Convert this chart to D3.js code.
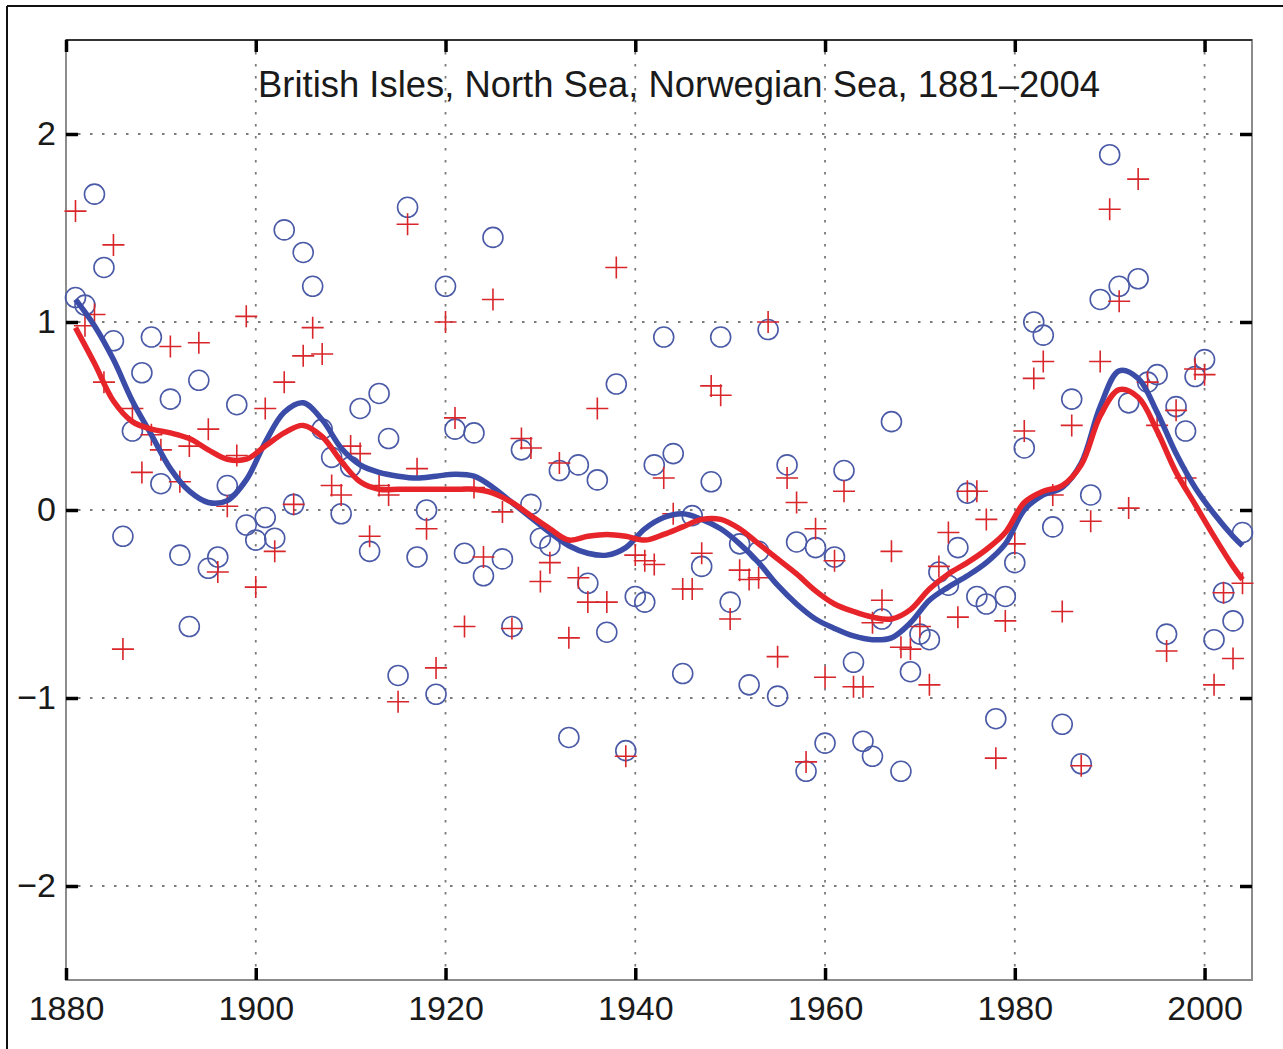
<!DOCTYPE html>
<html>
<head>
<meta charset="utf-8">
<script src="https://cdn.jsdelivr.net/npm/d3@7"></script>
<style>
  html, body { margin: 0; padding: 0; background: #fff; }
  svg { display: block; }
  text { font-family: "Liberation Sans", Arial, Helvetica, sans-serif; fill: #1a1a1a; }
</style>
</head>
<body>
<svg id="chart" width="1283" height="1049"></svg>
<script>
// Annual anomalies 1881–2004, two records (circles and crosses), with their smoothed curves.
const years = d3.range(1881, 2005);

const circleValues = [
  1.13, 1.09, 1.68, 1.29, 0.90, -0.14, 0.42, 0.73, 0.92, 0.14,      // 1881–1890
  0.59, -0.24, -0.62, 0.69, -0.31, -0.25, 0.13, 0.56, -0.08, -0.16, // 1891–1900
  -0.04, -0.15, 1.49, 0.03, 1.37, 1.19, 0.43, 0.28, -0.02, 0.23,    // 1901–1910
  0.54, -0.22, 0.62, 0.38, -0.88, 1.61, -0.25, 0.00, -0.98, 1.19,   // 1911–1920
  0.43, -0.23, 0.41, -0.35, 1.45, -0.26, -0.62, 0.32, 0.03, -0.15,  // 1921–1930
  -0.19, 0.21, -1.21, 0.24, -0.39, 0.16, -0.65, 0.67, -1.28, -0.46, // 1931–1940
  -0.49, 0.24, 0.92, 0.30, -0.87, -0.03, -0.30, 0.15, 0.92, -0.49,  // 1941–1950
  -0.18, -0.93, -0.22, 0.96, -0.99, 0.24, -0.17, -1.39, -0.20, -1.24, // 1951–1960
  -0.25, 0.21, -0.81, -1.23, -1.31, -0.58, 0.47, -1.39, -0.86, -0.66, // 1961–1970
  -0.69, -0.33, -0.40, -0.20, 0.09, -0.46, -0.50, -1.11, -0.46, -0.28, // 1971–1980
  0.33, 1.00, 0.93, -0.09, -1.14, 0.59, -1.35, 0.08, 1.12, 1.89,    // 1981–1990
  1.19, 0.57, 1.23, 0.68, 0.72, -0.66, 0.55, 0.42, 0.71, 0.80,      // 1991–2000
  -0.69, -0.44, -0.59, -0.12                                        // 2001–2004
];

const crossValues = [
  1.59, 0.98, 1.04, 0.68, 1.41, -0.74, 0.54, 0.20, 0.40, 0.32,      // 1881–1890
  0.87, 0.15, 0.34, 0.89, 0.43, -0.33, 0.02, 0.29, 1.03, -0.41,     // 1891–1900
  0.54, -0.22, 0.68, 0.03, 0.82, 0.97, 0.83, 0.13, 0.08, 0.34,      // 1901–1910
  0.30, -0.14, 0.13, 0.08, -1.02, 1.52, 0.22, -0.10, -0.84, 1.00,   // 1911–1920
  0.49, -0.62, 0.12, -0.25, 1.12, -0.01, -0.63, 0.38, 0.33, -0.38,  // 1921–1930
  -0.28, 0.25, -0.68, -0.36, -0.49, 0.54, -0.49, 1.29, -1.31, -0.24, // 1931–1940
  -0.27, -0.29, 0.17, -0.02, -0.42, -0.42, -0.23, 0.66, 0.61, -0.58, // 1941–1950
  -0.32, -0.37, -0.36, 1.00, -0.78, 0.17, 0.04, -1.34, -0.10, -0.89, // 1951–1960
  -0.27, 0.10, -0.94, -0.94, -0.60, -0.48, -0.22, -0.73, -0.74, -0.62, // 1961–1970
  -0.93, -0.30, -0.12, -0.57, 0.10, 0.10, -0.05, -1.32, -0.59, -0.18, // 1971–1980
  0.42, 0.70, 0.79, 0.08, -0.54, 0.45, -1.36, -0.06, 0.79, 1.60,    // 1981–1990
  1.11, 0.01, 1.76, 0.68, 0.45, -0.75, 0.53, 0.17, 0.75, 0.72,      // 1991–2000
  -0.93, -0.44, -0.79, -0.39                                        // 2001–2004
];

// Smoothed curves, sampled every second year
const smoothYears = [
  1881, 1883, 1885, 1887, 1889, 1891, 1893, 1895, 1897, 1899,
  1901, 1903, 1905, 1907, 1909, 1911, 1913, 1915, 1917, 1919,
  1921, 1923, 1925, 1927, 1929, 1931, 1933, 1935, 1937, 1939,
  1941, 1943, 1945, 1947, 1949, 1951, 1953, 1955, 1957, 1959,
  1961, 1963, 1965, 1967, 1969, 1971, 1973, 1975, 1977, 1979,
  1981, 1983, 1985, 1987, 1989, 1991, 1993, 1995, 1997, 1999,
  2001, 2003, 2004
];
const smoothCircles = [
  1.12, 0.98, 0.80, 0.58, 0.40, 0.22, 0.10, 0.04, 0.05, 0.16,
  0.36, 0.52, 0.57, 0.48, 0.33, 0.24, 0.20, 0.18, 0.17, 0.18,
  0.19, 0.18, 0.12, 0.04, -0.04, -0.12, -0.19, -0.23, -0.24, -0.20,
  -0.10, -0.04, -0.02, -0.05, -0.10, -0.18, -0.28, -0.40, -0.50, -0.58,
  -0.63, -0.67, -0.69, -0.68, -0.60, -0.48, -0.41, -0.35, -0.28, -0.18,
  0.00, 0.08, 0.12, 0.25, 0.55, 0.74, 0.70, 0.52, 0.30, 0.12,
  -0.02, -0.14, -0.19
];
const smoothCrosses = [
  0.97, 0.78, 0.58, 0.47, 0.43, 0.41, 0.38, 0.32, 0.27, 0.27,
  0.34, 0.41, 0.45, 0.39, 0.26, 0.15, 0.11, 0.11, 0.11, 0.11,
  0.11, 0.11, 0.09, 0.04, -0.03, -0.10, -0.16, -0.14, -0.13, -0.14,
  -0.16, -0.13, -0.09, -0.05, -0.05, -0.10, -0.18, -0.26, -0.34, -0.43,
  -0.50, -0.54, -0.57, -0.58, -0.53, -0.42, -0.34, -0.28, -0.21, -0.12,
  0.04, 0.10, 0.13, 0.24, 0.50, 0.64, 0.60, 0.42, 0.20, 0.03,
  -0.14, -0.30, -0.37
];

const xTicks = [1880, 1900, 1920, 1940, 1960, 1980, 2000];
const yTicks = [-2, -1, 0, 1, 2];
const titleText = "British Isles, North Sea, Norwegian Sea, 1881\u20132004";

const svg = d3.select("#chart");
const W = 1283, H = 1049;
const plot = { left: 66, right: 1252, top: 40, bottom: 980 };

const x = d3.scaleLinear().domain([1880, 2005]).range([plot.left, plot.right]);
const y = d3.scaleLinear().domain([-2.5, 2.5]).range([plot.bottom, plot.top]);

// Page frame (top and left edges)
svg.append("line").attr("x1", 7).attr("x2", W).attr("y1", 6).attr("y2", 6)
  .attr("stroke", "#111").attr("stroke-width", 2);
svg.append("line").attr("x1", 7).attr("x2", 7).attr("y1", 6).attr("y2", H)
  .attr("stroke", "#111").attr("stroke-width", 2);

// Dotted grid
const grid = svg.append("g").attr("class", "grid")
  .attr("stroke", "#7a7a7a").attr("stroke-width", 1.8).attr("stroke-dasharray", "2.5,9.5");
grid.selectAll("line.v").data(xTicks.filter(t => t > 1880)).join("line")
  .attr("class", "v")
  .attr("x1", d => x(d)).attr("x2", d => x(d))
  .attr("y1", plot.top).attr("y2", plot.bottom);
grid.selectAll("line.h").data(yTicks).join("line")
  .attr("class", "h")
  .attr("x1", plot.left).attr("x2", plot.right)
  .attr("y1", d => y(d)).attr("y2", d => y(d));

// Axes box
svg.append("rect")
  .attr("x", plot.left).attr("y", plot.top)
  .attr("width", plot.right - plot.left).attr("height", plot.bottom - plot.top)
  .attr("fill", "none").attr("stroke", "#8c8c8c").attr("stroke-width", 2);
svg.append("line").attr("x1", plot.left).attr("x2", plot.right)
  .attr("y1", plot.top).attr("y2", plot.top).attr("stroke", "#333").attr("stroke-width", 2);

// Axes with inward ticks on all four sides
function styleAxis(g) {
  g.select(".domain").remove();
  g.selectAll(".tick line").attr("stroke", "#000").attr("stroke-width", 3.5);
  g.selectAll(".tick text").attr("font-size", 34).attr("fill", "#1a1a1a")
    .style("font-family", '"Liberation Sans", Arial, Helvetica, sans-serif');
}
const yFmt = d => (d < 0 ? "\u2212" + Math.abs(d) : String(d));

svg.append("g").attr("transform", `translate(0,${plot.bottom})`)
  .call(d3.axisBottom(x).tickValues(xTicks).tickFormat(d3.format("d"))
    .tickSizeInner(-12).tickSizeOuter(0).tickPadding(16))
  .call(styleAxis)
  .call(g => g.selectAll(".tick text").attr("dy", "0.71em"));
svg.append("g").attr("transform", `translate(0,${plot.top})`)
  .call(d3.axisTop(x).tickValues(xTicks).tickFormat("").tickSizeInner(-12).tickSizeOuter(0))
  .call(styleAxis);
svg.append("g").attr("transform", `translate(${plot.left},0)`)
  .call(d3.axisLeft(y).tickValues(yTicks).tickFormat(yFmt)
    .tickSizeInner(-12).tickSizeOuter(0).tickPadding(10))
  .call(styleAxis);
svg.append("g").attr("transform", `translate(${plot.right},0)`)
  .call(d3.axisRight(y).tickValues(yTicks).tickFormat("").tickSizeInner(-12).tickSizeOuter(0))
  .call(styleAxis);

// Title inside the axes
const title = svg.append("text")
  .attr("x", 679).attr("y", 97)
  .attr("text-anchor", "middle")
  .attr("font-size", 32)
  .attr("fill", "#1a1a1a")
  .text(titleText);
const tw = title.node().getComputedTextLength();
if (tw > 0) title.attr("font-size", 32 * 842 / tw);

const layer = svg.append("g");

// Circle markers
layer.append("g").selectAll("circle").data(years).join("circle")
  .attr("cx", (d, i) => x(d))
  .attr("cy", (d, i) => y(circleValues[i]))
  .attr("r", 10)
  .attr("fill", "none")
  .attr("stroke", "#4a5aa6")
  .attr("stroke-width", 1.6);

// Cross markers
const arm = 11;
layer.append("g").selectAll("path").data(years).join("path")
  .attr("d", (d, i) => {
    const cx = x(d), cy = y(crossValues[i]);
    return `M${cx - arm},${cy}H${cx + arm}M${cx},${cy - arm}V${cy + arm}`;
  })
  .attr("fill", "none")
  .attr("stroke", "#d8262b")
  .attr("stroke-width", 1.6);

// Smoothed curves
const line = vals => d3.line()
  .x((d, i) => x(d))
  .y((d, i) => y(vals[i]))
  .curve(d3.curveCatmullRom.alpha(0.5))(smoothYears);

layer.append("path").attr("d", line(smoothCircles))
  .attr("fill", "none").attr("stroke", "#3a4ca8").attr("stroke-width", 5.5)
  .attr("stroke-linejoin", "round").attr("stroke-linecap", "butt");
layer.append("path").attr("d", line(smoothCrosses))
  .attr("fill", "none").attr("stroke", "#e6242a").attr("stroke-width", 5.5)
  .attr("stroke-linejoin", "round").attr("stroke-linecap", "butt");
</script>
</body>
</html>
